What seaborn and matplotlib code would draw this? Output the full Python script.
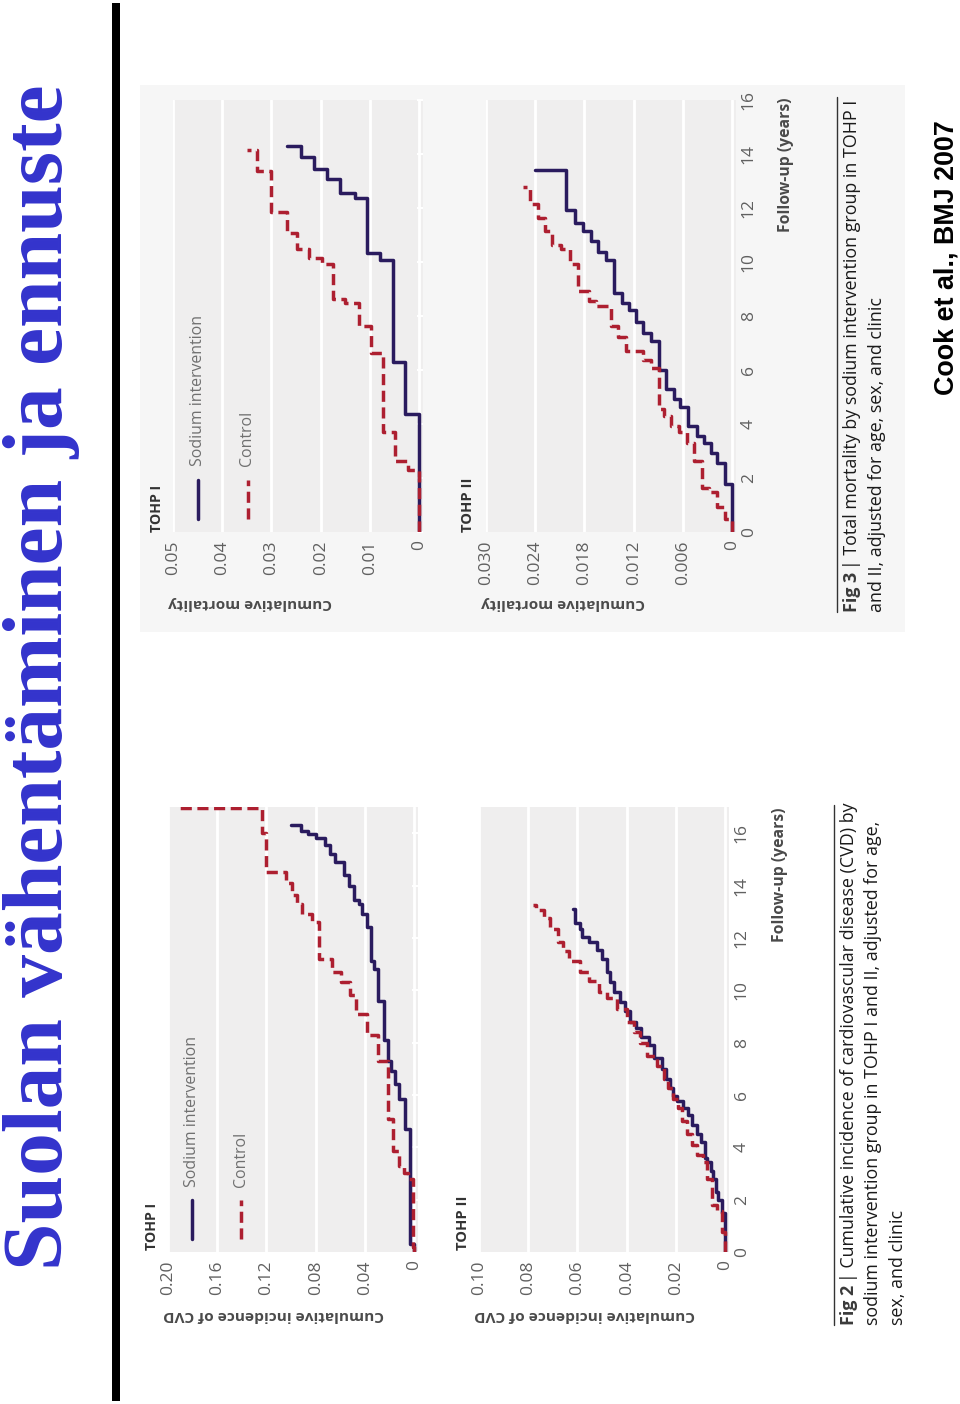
import numpy as np
import pandas as pd
import matplotlib
matplotlib.use("Agg")
import matplotlib.pyplot as plt
import seaborn as sns
from matplotlib import font_manager
from matplotlib.lines import Line2D
from matplotlib.patches import Rectangle

# ------------------------------------------------------------------ data
# Fig 2 – cumulative incidence of CVD (years at which the curve steps, value after the step)
f2_t1_sod_years = [0, 0.3, 4.7, 5.85, 6.4, 6.9, 7.3, 8.1, 9.6, 10.8, 11.1, 12.4, 12.9, 13.3,
                   13.45, 14.0, 14.4, 14.9, 15.2, 15.55, 15.8, 15.95, 16.1, 16.3]
f2_t1_sod_inc = [0, 0.003, 0.0075, 0.012, 0.0155, 0.019, 0.021, 0.0245, 0.029, 0.0325, 0.035,
                 0.038, 0.042, 0.045, 0.049, 0.053, 0.057, 0.0645, 0.068, 0.072, 0.080, 0.086,
                 0.092, 0.100]
f2_t1_con_years = [0, 0.2, 2.8, 3.0, 3.3, 3.85, 5.1, 7.3, 8.3, 9.1, 9.8, 10.3, 10.7, 11.2, 12.6,
                   12.9, 13.3, 13.65, 14.1, 14.5, 16.0, 16.95]
f2_t1_con_inc = [0, 0.001, 0.005, 0.008, 0.012, 0.017, 0.021, 0.029, 0.038, 0.047, 0.052, 0.059,
                 0.067, 0.077, 0.083, 0.091, 0.095, 0.099, 0.104, 0.120, 0.124, 0.190]

f2_t2_sod_years = [0, 1.5, 2.0, 2.3, 2.8, 3.1, 3.45, 3.6, 4.2, 4.5, 4.85, 5.25, 5.5, 5.75, 5.95,
                   6.25, 6.6, 7.0, 7.4, 7.9, 8.2, 8.55, 8.8, 9.2, 9.55, 9.95, 10.3, 10.7, 11.2,
                   11.55, 11.85, 12.05, 12.35, 12.55, 13.1]
f2_t2_sod_inc = [0, 0.0014, 0.0027, 0.0036, 0.0047, 0.0057, 0.0074, 0.008, 0.0097, 0.0115,
                 0.0135, 0.015, 0.017, 0.0196, 0.021, 0.0223, 0.024, 0.0257, 0.029, 0.031, 0.034,
                 0.036, 0.0385, 0.0405, 0.0425, 0.045, 0.0466, 0.048, 0.050, 0.052, 0.0554,
                 0.058, 0.059, 0.061, 0.062]
f2_t2_con_years = [0, 0.75, 1.55, 1.8, 2.8, 3.45, 3.7, 4.1, 4.5, 5.0, 5.5, 5.85, 6.25, 6.6, 7.1,
                   7.5, 8.0, 8.4, 8.8, 9.3, 9.7, 9.95, 10.35, 10.7, 11.1, 11.5, 11.85, 12.35,
                   12.75, 13.05, 13.25]
f2_t2_con_inc = [0, 0.0014, 0.0034, 0.0054, 0.0074, 0.0088, 0.0115, 0.0135, 0.0155, 0.0176,
                 0.0193, 0.021, 0.023, 0.025, 0.0277, 0.0318, 0.0345, 0.037, 0.040, 0.044, 0.048,
                 0.0513, 0.0554, 0.0588, 0.0635, 0.066, 0.068, 0.071, 0.0736, 0.077, 0.078]

# Fig 3 – cumulative total mortality
f3_t1_sod_years = [0, 4.36, 6.29, 10.07, 10.33, 12.36, 12.57, 13.07, 13.46, 13.9, 14.29]
f3_t1_sod_inc = [0, 0.0028, 0.0053, 0.0079, 0.0105, 0.013, 0.016, 0.0187, 0.0213, 0.024, 0.0269]
f3_t1_con_years = [0, 2.29, 2.64, 3.71, 6.64, 7.64, 8.5, 8.64, 9.93, 10.14, 10.5, 11.07, 11.86,
                   13.36, 14.14]
f3_t1_con_inc = [0, 0.0023, 0.0048, 0.0074, 0.0098, 0.0123, 0.0151, 0.0175, 0.0197, 0.0223,
                 0.0248, 0.0269, 0.030, 0.033, 0.035]

f3_t2_sod_years = [0, 1.79, 2.57, 2.93, 3.29, 3.57, 3.93, 4.64, 4.93, 5.29, 6.0, 7.07, 7.36,
                   7.79, 8.21, 8.5, 8.86, 10.07, 10.36, 10.79, 11.14, 11.43, 11.93, 13.39]
f3_t2_sod_inc = [0, 0.0009, 0.0018, 0.0026, 0.0034, 0.0043, 0.0054, 0.0063, 0.0071, 0.008,
                 0.0089, 0.0099, 0.0108, 0.0117, 0.0126, 0.0134, 0.0144, 0.0154, 0.0163, 0.0172,
                 0.0182, 0.0192, 0.0202, 0.024]
f3_t2_con_years = [0, 0.5, 0.93, 1.5, 1.64, 2.64, 3.29, 3.71, 3.93, 4.29, 4.57, 6.07, 6.36, 6.71,
                   7.21, 7.64, 8.36, 8.57, 8.93, 9.93, 10.5, 10.64, 11.14, 11.64, 12.14, 12.79]
f3_t2_con_inc = [0, 0.0009, 0.0018, 0.0028, 0.0037, 0.0046, 0.0055, 0.0065, 0.0074, 0.0083,
                 0.0089, 0.0099, 0.0108, 0.0129, 0.0139, 0.0148, 0.0166, 0.0175, 0.0188, 0.0197,
                 0.0209, 0.0219, 0.0228, 0.0237, 0.0246, 0.0255]

# tick values / labels
year_ticks = [0, 2, 4, 6, 8, 10, 12, 14, 16]
year_labels = ["0", "2", "4", "6", "8", "10", "12", "14", "16"]
f2_t1_ticks = [0, 0.04, 0.08, 0.12, 0.16, 0.20]
f2_t1_labels = ["0", "0.04", "0.08", "0.12", "0.16", "0.20"]
f2_t2_ticks = [0, 0.02, 0.04, 0.06, 0.08, 0.10]
f2_t2_labels = ["0", "0.02", "0.04", "0.06", "0.08", "0.10"]
f3_t1_ticks = [0, 0.01, 0.02, 0.03, 0.04, 0.05]
f3_t1_labels = ["0", "0.01", "0.02", "0.03", "0.04", "0.05"]
f3_t2_ticks = [0, 0.006, 0.012, 0.018, 0.024, 0.030]
f3_t2_labels = ["0", "0.006", "0.012", "0.018", "0.024", "0.030"]

# texts
title_text = "Suolan vähentäminen ja ennuste"
source_text = "Cook et al., BMJ 2007"
series_names = ["Sodium intervention", "Control"]
panel_names = ["TOHP I", "TOHP II"]
fig2_ylabel = "Cumulative incidence of CVD"
fig3_ylabel = "Cumulative mortality"
xlabel_text = "Follow-up (years)"
fig2_caption = [[("Fig 2", "bold"), ("| Cumulative incidence of cardiovascular disease (CVD) by", "normal")],
                [("sodium intervention group in TOHP I and II, adjusted for age,", "normal")],
                [("sex, and clinic", "normal")]]
fig3_caption = [[("Fig 3", "bold"), ("| Total mortality by sodium intervention group in TOHP I", "normal")],
                [("and II, adjusted for age, sex, and clinic", "normal")]]

# ------------------------------------------------------------------ style
SOD_COLOR = "#2a1b5e"
CON_COLOR = "#ad1f30"
PANEL_BG = "#efeeee"
TICK_COLOR = "#606060"
LABEL_COLOR = "#4a4a4a"
LW = 2.5

sns.set_theme(style="darkgrid", rc={
    "axes.facecolor": PANEL_BG,
    "grid.color": "white",
    "grid.linewidth": 2.0,
    "axes.edgecolor": PANEL_BG,
    "figure.facecolor": "white",
})

available = {f.name for f in font_manager.fontManager.ttflist}


def pick(*names):
    for n in names:
        if n in available:
            return n
    return "DejaVu Sans"


SANS = pick("Open Sans", "Noto Sans", "Lato", "DejaVu Sans")
SERIF = pick("Liberation Serif", "DejaVu Serif")
ARIAL = pick("Liberation Sans", "DejaVu Sans")
plt.rcParams["font.family"] = [SANS, "DejaVu Sans"]

W, H = 960, 1404
fig = plt.figure(figsize=(W / 100, H / 100), dpi=100)
renderer = fig.canvas.get_renderer()


def FX(px):
    return px / W


def FY(py):
    return 1 - py / H


def length_of(t, vertical=True):
    bb = t.get_window_extent(renderer)
    return bb.height if vertical else bb.width


def fit(t, target, vertical=True):
    t.set_fontsize(t.get_fontsize() * target / length_of(t, vertical))
    return t


def vtext(x, y, s, size, ha="left", va="center", **kw):
    return fig.text(FX(x), FY(y), s, rotation=90, rotation_mode="anchor",
                    ha=ha, va=va, fontsize=size, **kw)


# light background box behind Fig 3
fig.patches.append(Rectangle((FX(140), FY(632)), FX(905) - FX(140), FY(85) - FY(632),
                             transform=fig.transFigure, facecolor="#f6f6f6",
                             edgecolor="none", zorder=-5))
# black separator bar
fig.patches.append(Rectangle((FX(112), FY(1401)), FX(120) - FX(112), FY(3) - FY(1401),
                             transform=fig.transFigure, facecolor="black",
                             edgecolor="none", zorder=1))


def make_panel(left, right, top, bottom, xmax, ymax, xticks, xlabels, show_years):
    ax = fig.add_axes([FX(left), FY(bottom), FX(right) - FX(left), FY(top) - FY(bottom)])
    ax.set_xlim(xmax, -0.016 * xmax)
    ax.set_ylim(0, ymax)
    ax.set_xticks(xticks, xlabels)
    ax.set_yticks(year_ticks, year_labels)
    ax.grid(axis="y", visible=False)
    ax.grid(axis="x", color="white", linewidth=2.0)
    for sp in ax.spines.values():
        sp.set_visible(False)
    ax.tick_params(axis="x", bottom=False, length=0, pad=6, labelsize=12.5,
                   labelcolor=TICK_COLOR, labelrotation=90)
    if show_years:
        ax.tick_params(axis="y", left=False, right=False, labelleft=False, labelright=True,
                       length=0, pad=3.5, labelsize=12.5, labelcolor=TICK_COLOR,
                       labelrotation=90)
        for tk in ax.yaxis.get_major_ticks():
            tk.label2.set_va("center")
            tk.label2.set_ha("left")
    else:
        ax.tick_params(axis="y", left=False, right=True, labelleft=False, labelright=False,
                       direction="in", length=4, width=1.5, color="white")
    return ax


def draw_curve(ax, years, inc, color, dashed):
    df = pd.DataFrame({"years": years, "inc": inc})
    kw = {"linestyle": (0, (3.2, 1.6))} if dashed else {}
    sns.lineplot(data=df, x="inc", y="years", orient="y", sort=False, estimator=None,
                 drawstyle="steps-pre", color=color, linewidth=LW, ax=ax, legend=False,
                 zorder=3, **kw)
    ax.set_xlabel("")
    ax.set_ylabel("")


def legend(ax, x_sod, x_con, y0, y1, ytext):
    for xx, c, ls in [(x_sod, SOD_COLOR, "-"), (x_con, CON_COLOR, (0, (3.2, 1.6)))]:
        ax.add_line(Line2D([xx, xx], [y0, y1], transform=ax.transAxes, color=c,
                           linewidth=LW, linestyle=ls, clip_on=False))
    t1 = ax.text(x_sod, ytext, series_names[0], transform=ax.transAxes, rotation=90,
                 rotation_mode="anchor", ha="left", va="center", fontsize=12,
                 color="#707070")
    fit(t1, 150)
    ax.text(x_con, ytext, series_names[1], transform=ax.transAxes, rotation=90,
            rotation_mode="anchor", ha="left", va="center", fontsize=t1.get_fontsize(),
            color="#707070")


# ------------------------------------------------------------------ Fig 2 panels
ax21 = make_panel(168, 418, 807, 1252, 0.20, 17, f2_t1_ticks, f2_t1_labels, False)
ax22 = make_panel(479, 729, 807, 1252, 0.10, 17, f2_t2_ticks, f2_t2_labels, True)
draw_curve(ax21, f2_t1_sod_years, f2_t1_sod_inc, SOD_COLOR, False)
draw_curve(ax21, f2_t1_con_years, f2_t1_con_inc, CON_COLOR, True)
draw_curve(ax22, f2_t2_sod_years, f2_t2_sod_inc, SOD_COLOR, False)
draw_curve(ax22, f2_t2_con_years, f2_t2_con_inc, CON_COLOR, True)
legend(ax21, 0.094, 0.293, 0.03, 0.117, 0.147)

# ------------------------------------------------------------------ Fig 3 panels
ax31 = make_panel(173, 423, 100, 532, 0.05, 16, f3_t1_ticks, f3_t1_labels, False)
ax32 = make_panel(486, 736, 100, 532, 0.030, 16, f3_t2_ticks, f3_t2_labels, True)
draw_curve(ax31, f3_t1_sod_years, f3_t1_sod_inc, SOD_COLOR, False)
draw_curve(ax31, f3_t1_con_years, f3_t1_con_inc, CON_COLOR, True)
draw_curve(ax32, f3_t2_sod_years, f3_t2_sod_inc, SOD_COLOR, False)
draw_curve(ax32, f3_t2_con_years, f3_t2_con_inc, CON_COLOR, True)
legend(ax31, 0.099, 0.298, 0.031, 0.12, 0.152)

# ------------------------------------------------------------------ panel titles & labels
for (x, y, s, L) in [(152, 1250, panel_names[0], 47), (463, 1250, panel_names[1], 54),
                     (157, 532, panel_names[0], 47), (468, 532, panel_names[1], 54)]:
    fit(vtext(x, y, s, 12, fontweight="bold", color="#333333"), L)

for (x, y, s, L) in [(163, 1315, fig2_ylabel, 220), (474, 1315, fig2_ylabel, 220),
                     (168, 603, fig3_ylabel, 163), (481, 603, fig3_ylabel, 163)]:
    t = fig.text(FX(x), FY(y), s, rotation=180, rotation_mode="anchor", ha="right",
                 va="center", fontsize=12, fontweight="bold", color=LABEL_COLOR)
    fit(t, L, vertical=False)

for (x, y) in [(780, 808), (786, 98)]:
    fit(vtext(x, y, xlabel_text, 12, ha="right", fontweight="bold", color=LABEL_COLOR), 134)


# ------------------------------------------------------------------ captions
def caption(lines, xs, y0, first_len, rule_x, rule_y1):
    def layout(size):
        made = []
        total = 0
        for parts, x in zip(lines, xs):
            y = y0
            for k, (s, w) in enumerate(parts):
                t = vtext(x, y, s, size, fontweight=w,
                          color="#3a3a3a" if w == "bold" else "#1a1a1a")
                made.append(t)
                y -= length_of(t) + (3 if k == 0 and len(parts) > 1 else 0)
            if x == xs[0]:
                total = y0 - y
        return made, total

    made, total = layout(12)
    size = 12 * first_len / total
    for t in made:
        t.remove()
    layout(size)
    fig.add_artist(Line2D([FX(rule_x), FX(rule_x)], [FY(y0), FY(rule_y1)],
                          transform=fig.transFigure, color="#333333", linewidth=1.0))


caption(fig2_caption, [849, 873, 898], 1325, 520, 834, 805)
caption(fig3_caption, [852, 877], 612, 512, 837, 97)

# ------------------------------------------------------------------ title & source
t = vtext(62, 1270, title_text, 60, va="baseline", family=[SERIF, "DejaVu Serif"],
          fontweight="bold", color="#3333cc")
fit(t, 1185)
t = vtext(946, 395, source_text, 20, family=[ARIAL, "DejaVu Sans"], fontweight="bold",
          color="black")
fit(t, 275)

fig.savefig("out.png", dpi=100)
